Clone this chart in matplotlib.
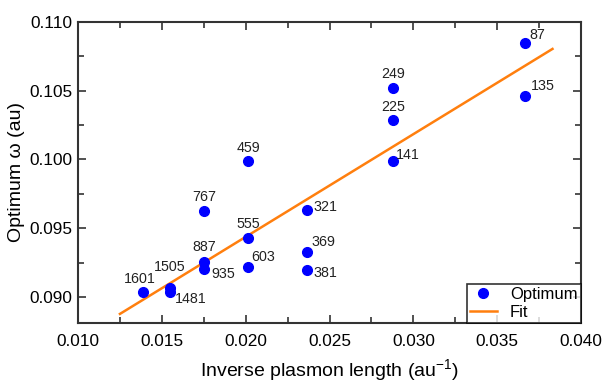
import numpy as np
import matplotlib.pyplot as plt
from matplotlib.ticker import MultipleLocator

plt.rcParams['font.family'] = ['Liberation Sans', 'DejaVu Sans']
plt.rcParams['mathtext.fontset'] = 'custom'
plt.rcParams['mathtext.rm'] = 'Liberation Sans'
plt.rcParams['mathtext.it'] = 'Liberation Sans:italic'

# inverse plasmon length (au^-1), optimum omega (au), and point labels
inv_len = [0.03666, 0.03666, 0.02878, 0.02878, 0.02878, 0.02014, 0.01751,
           0.02014, 0.02366, 0.01751, 0.01751, 0.02014, 0.02366, 0.02366,
           0.01388, 0.01549, 0.01549]
omega = [0.10847, 0.10462, 0.10520, 0.10287, 0.09989, 0.09985, 0.09625,
         0.09429, 0.09632, 0.09255, 0.09204, 0.09218, 0.09327, 0.09196,
         0.09036, 0.09065, 0.09036]
labels = ['87', '135', '249', '225', '141', '459', '767', '555', '321',
          '887', '935', '603', '369', '381', '1601', '1505', '1481']
# label offsets in points
offsets = [(9, 6), (13, 7), (0, 10), (0, 9), (11, 4), (0, 10), (0, 10),
           (0, 10), (13, 2), (0, 11), (14, -4), (11, 7), (12, 7), (13, -2),
           (-2, 9), (0, 15), (15, -5)]

fit_x = [0.0125, 0.0383]
fit_y = [0.08876, 0.10804]

fig = plt.figure(figsize=(6.03, 3.83), dpi=100)
ax = fig.add_axes([0.1294, 0.1567, 0.8341, 0.7859])

ax.plot(inv_len, omega, 'o', color='#0000ff', markersize=7, label='Optimum', zorder=3)
ax.plot(fit_x, fit_y, '-', color='#ff7f0e', linewidth=1.8, label='Fit', zorder=2)

for x, y, lab, off in zip(inv_len, omega, labels, offsets):
    ax.annotate(lab, (x, y), xytext=off, textcoords='offset points',
                ha='center', va='center', fontsize=10.3, color='#222222')

ax.set_xlim(0.010, 0.040)
ax.set_ylim(0.0881, 0.110)
ax.xaxis.set_major_locator(MultipleLocator(0.005))
ax.xaxis.set_minor_locator(MultipleLocator(0.0025))
ax.yaxis.set_major_locator(MultipleLocator(0.005))
ax.yaxis.set_minor_locator(MultipleLocator(0.0025))
ax.xaxis.set_major_formatter(plt.FormatStrFormatter('%.3f'))
ax.yaxis.set_major_formatter(plt.FormatStrFormatter('%.3f'))
ax.tick_params(which='both', direction='in', top=True, right=True,
               labelsize=12.4, color='#333333', width=1.2)
ax.tick_params(which='major', length=6)
ax.tick_params(which='minor', length=4)
ax.tick_params(axis='x', which='major', pad=8)
ax.tick_params(axis='y', which='major', pad=4)
for s in ax.spines.values():
    s.set_linewidth(1.5)
    s.set_color('#333333')

ax.set_xlabel(r'Inverse plasmon length (au$^{\mathregular{-1}}$)', fontsize=14, labelpad=6)
ax.set_ylabel('Optimum ω (au)', fontsize=14, labelpad=3)

leg = ax.legend(loc='lower right', fontsize=12, frameon=True, fancybox=False,
                borderaxespad=0, handlelength=1.6, numpoints=1,
                borderpad=0.2, labelspacing=0.15, handletextpad=0.8)
leg.get_frame().set_edgecolor('black')
leg.get_frame().set_linewidth(1.2)

fig.savefig('out.png', dpi=100)
